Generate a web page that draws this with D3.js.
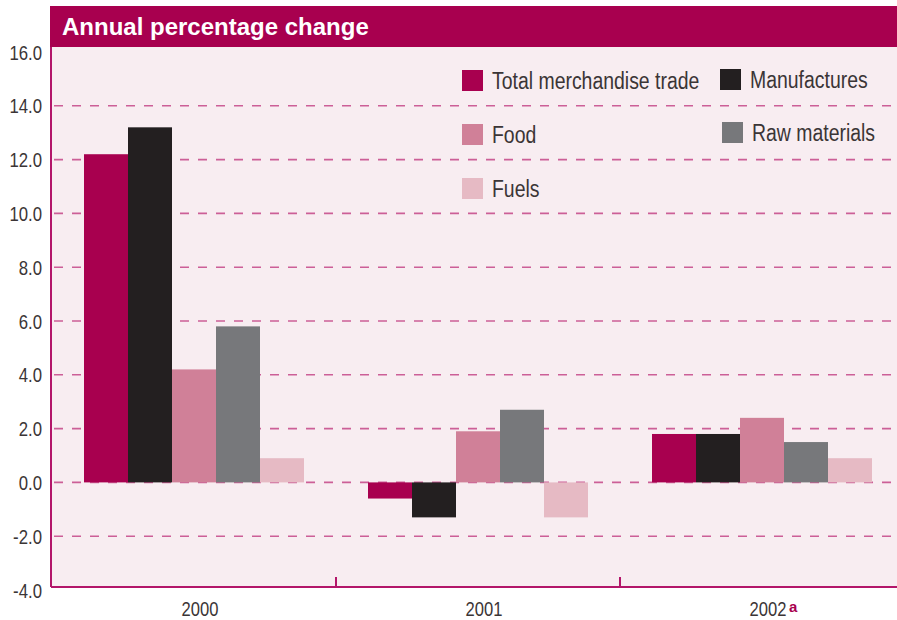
<!DOCTYPE html>
<html>
<head>
<meta charset="utf-8">
<script src="https://cdn.jsdelivr.net/npm/d3@7"></script>
<style>
  html, body { margin: 0; padding: 0; background: #ffffff; }
  svg { display: block; }
  text { font-family: "Liberation Sans", Arial, sans-serif; }
</style>
</head>
<body>
<svg id="chart" width="897" height="620"></svg>
<script>
// Years on the x axis
const years = ["2000", "2001", "2002"];
// Product groups, one bar per group in each year
const seriesNames = ["Total merchandise trade", "Manufactures", "Food", "Raw materials", "Fuels"];
// Annual percentage change, per series, in year order
const totalTrade   = [12.2, -0.6, 1.8];
const manufactures = [13.2, -1.3, 1.8];
const food         = [4.2, 1.9, 2.4];
const rawMaterials = [5.8, 2.7, 1.5];
const fuels        = [0.9, -1.3, 0.9];
// Value axis tick values and their labels
const tickValues = [-4, -2, 0, 2, 4, 6, 8, 10, 12, 14, 16];
const tickLabels = ["-4.0", "-2.0", "0.0", "2.0", "4.0", "6.0", "8.0", "10.0", "12.0", "14.0", "16.0"];

const seriesValues = [totalTrade, manufactures, food, rawMaterials, fuels];
const colors = ["#a8004f", "#231f20", "#d08098", "#77787b", "#e6bac4"];
const magenta = "#b3166a";
const textGrey = "#3b3536";

const svg = d3.select("#chart");

const plot = { left: 51, right: 897, top: 47, bottom: 587 };

const y = d3.scaleLinear().domain([-4, 16]).range([590, 52]);
const x0 = d3.scaleBand().domain(years).range([52, 904]).paddingInner(0).paddingOuter(0);
const x1 = d3.scaleBand().domain(seriesNames).range([32, x0.bandwidth() - 32]);

// Narrow type: a regular sans squeezed horizontally around its anchor point
function narrowText(sel, x, yPos, size, sx) {
  return sel
    .attr("x", 0).attr("y", 0)
    .attr("transform", (d, i) => {
      const tx = typeof x === "function" ? x(d, i) : x;
      const ty = typeof yPos === "function" ? yPos(d, i) : yPos;
      return `translate(${tx},${ty}) scale(${sx},1)`;
    })
    .attr("font-size", size)
    .attr("fill", textGrey);
}

// plot background
svg.append("rect")
  .attr("x", plot.left).attr("y", plot.top)
  .attr("width", plot.right - plot.left).attr("height", plot.bottom - plot.top)
  .attr("fill", "#f8edf1");

// dashed gridlines
svg.append("g")
  .selectAll("line")
  .data(tickValues.filter(v => v > -4 && v < 16))
  .join("line")
  .attr("x1", plot.left).attr("x2", plot.right)
  .attr("y1", d => y(d)).attr("y2", d => y(d))
  .attr("stroke", "#cc5f97")
  .attr("stroke-width", 1.6)
  .attr("stroke-dasharray", "9,9")
  .attr("stroke-dashoffset", -3);

// bars
const rows = [];
years.forEach((yr, i) => {
  seriesNames.forEach((s, j) => rows.push({ year: yr, series: s, idx: j, value: seriesValues[j][i] }));
});
svg.append("g")
  .selectAll("rect")
  .data(rows)
  .join("rect")
  .attr("x", d => x0(d.year) + x1(d.series))
  .attr("width", x1.bandwidth())
  .attr("y", d => y(Math.max(0, d.value)))
  .attr("height", d => Math.abs(y(d.value) - y(0)))
  .attr("fill", d => colors[d.idx]);

// value axis (labels only)
const yAxis = d3.axisLeft(y).tickValues(tickValues)
  .tickFormat((d, i) => tickLabels[i]).tickSize(0).tickPadding(9);
const gy = svg.append("g").attr("transform", `translate(${plot.left},0)`).call(yAxis);
gy.select(".domain").remove();
gy.selectAll(".tick text")
  .attr("x", -9 / 0.86)
  .attr("dy", "0.36em")
  .attr("transform", "scale(0.86,1)")
  .attr("font-size", 19.5)
  .attr("font-family", "Liberation Sans, Arial, sans-serif")
  .attr("fill", textGrey);

// left axis line
svg.append("line")
  .attr("x1", plot.left).attr("x2", plot.left)
  .attr("y1", plot.top).attr("y2", plot.bottom)
  .attr("stroke", magenta).attr("stroke-width", 2);

// bottom axis line with separators between years
svg.append("line")
  .attr("x1", plot.left).attr("x2", plot.right)
  .attr("y1", plot.bottom).attr("y2", plot.bottom)
  .attr("stroke", magenta).attr("stroke-width", 2);

svg.append("g")
  .selectAll("line")
  .data(years.slice(1))
  .join("line")
  .attr("x1", d => x0(d)).attr("x2", d => x0(d))
  .attr("y1", plot.bottom - 10).attr("y2", plot.bottom)
  .attr("stroke", magenta).attr("stroke-width", 2);

// year labels
narrowText(
  svg.append("g").selectAll("text").data(years).join("text"),
  d => x0(d) + x0.bandwidth() / 2 + 6, 616, 20, 0.83
).attr("text-anchor", "middle").text(d => d);

// footnote marker on the last year
svg.append("text")
  .attr("x", x0("2002") + x0.bandwidth() / 2 + 27)
  .attr("y", 612)
  .attr("font-size", 15)
  .attr("font-weight", "bold")
  .attr("fill", "#a8004f")
  .text("a");

// header band
svg.append("rect")
  .attr("x", 50).attr("y", 6)
  .attr("width", 847).attr("height", 41)
  .attr("fill", "#a8004f");
svg.append("text")
  .attr("x", 62).attr("y", 35)
  .attr("font-weight", "bold")
  .attr("font-size", 24)
  .attr("fill", "#ffffff")
  .text("Annual percentage change");

// legend
const legendPos = [
  { x: 462, y: 70, tx: 492 },
  { x: 720, y: 69, tx: 750 },
  { x: 462, y: 124, tx: 492 },
  { x: 722, y: 122, tx: 752 },
  { x: 462, y: 178, tx: 492 }
];
const legend = svg.append("g")
  .selectAll("g")
  .data(seriesNames)
  .join("g");
legend.append("rect")
  .attr("x", (d, i) => legendPos[i].x)
  .attr("y", (d, i) => legendPos[i].y)
  .attr("width", 21).attr("height", 21)
  .attr("fill", (d, i) => colors[i]);
narrowText(
  legend.append("text"),
  (d, i) => legendPos[i].tx, (d, i) => legendPos[i].y + 19, 24, 0.81
).text(d => d);
</script>
</body>
</html>
